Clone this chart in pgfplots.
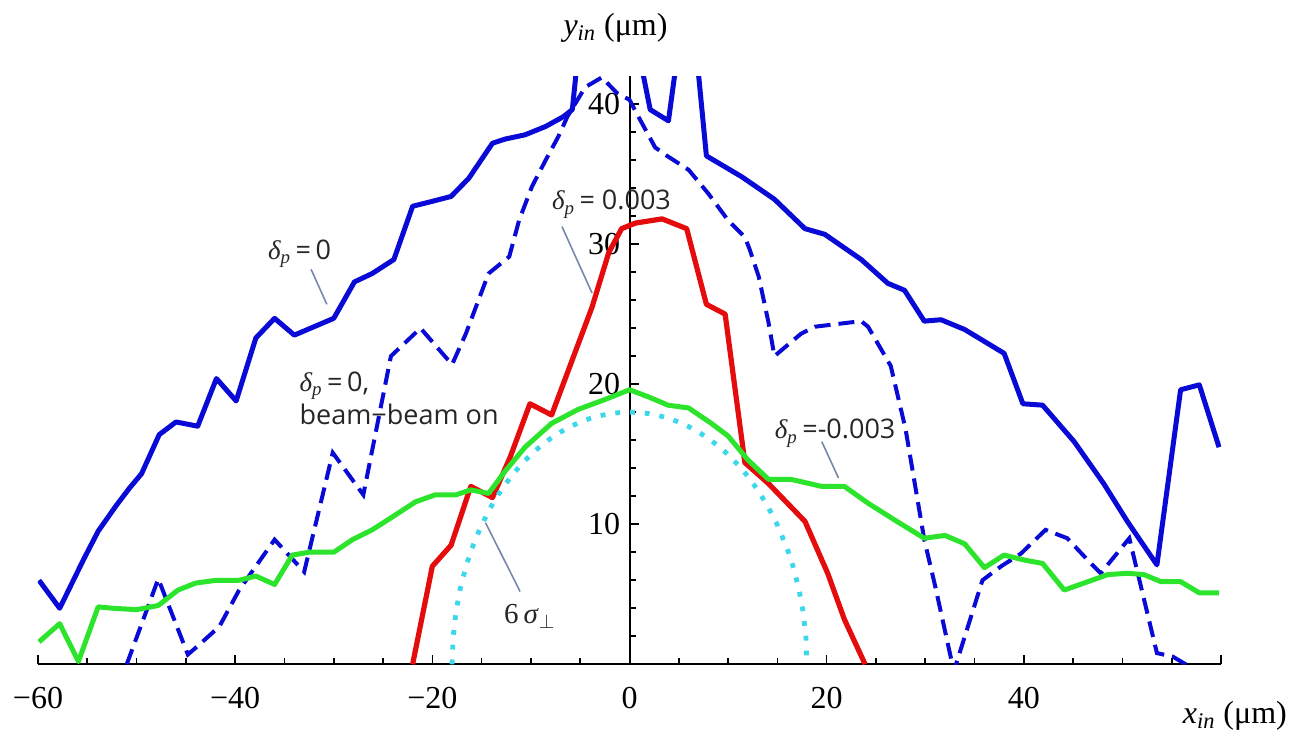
\documentclass[border=0pt]{standalone}
\usepackage{fontspec}
\setmainfont{Liberation Serif}
\newfontfamily\sansf{Open Sans}
\usepackage{pgfplots}
\pgfplotsset{compat=1.18}
\definecolor{cblue}{RGB}{10,10,215}
\definecolor{cred}{RGB}{228,12,12}
\definecolor{cgreen}{RGB}{45,228,45}
\definecolor{ccyan}{RGB}{60,215,235}
\definecolor{lead}{RGB}{120,135,170}
\newcommand{\dlt}{{\rmfamily\itshape δ}\textsubscript{\rmfamily\itshape p}}
\begin{document}
\begin{tikzpicture}
\path[use as bounding box] (-19pt,-34.85pt) rectangle (626.5pt,332.15pt);
\begin{axis}[
  at={(0,0)}, anchor=south west,
  scale only axis, width=591.5pt, height=294.15pt,
  xmin=-60, xmax=60, ymin=0, ymax=42,
  axis lines=middle,
  clip mode=individual,
  axis line style={black, line width=1pt, -},
  every inner x axis line/.append style={-},
  every inner y axis line/.append style={-},
  hide obscured x ticks=false,
  hide obscured y ticks=false,
  xtick={-60,-40,-20,0,20,40,60},
  xticklabels={−60,−40,−20,0,20,40,{}},
  minor xtick={-55,-50,-45,-35,-30,-25,-15,-10,-5,5,10,15,25,30,35,45,50,55},
  ytick={10,20,30,40},
  yticklabels={10,20,30,40},
  minor ytick={2,4,6,8,12,14,16,18,22,24,26,28,32,34,36,38},
  tick align=inside,
  major tick length=4.5pt, minor tick length=3pt,
  tick style={black, line width=0.8pt},
  xticklabel style={font=\fontsize{16}{18}\selectfont, anchor=base, inner sep=0pt, yshift=-21.85pt},
  yticklabel style={font=\fontsize{16}{18}\selectfont, anchor=east, inner sep=0pt, xshift=-4.5pt},
]
% delta_p = 0 (solid blue)
\addplot[cblue, line width=2.5pt, line join=round] coordinates {
(-59.9,6.0) (-57.8,4.0) (-55.4,7.45) (-53.9,9.5) (-52.1,11.3) (-50.7,12.6) (-49.5,13.6)
(-47.7,16.4) (-46,17.3) (-43.8,17.0) (-41.9,20.4) (-39.9,18.8) (-37.9,23.3) (-36.0,24.7)
(-34.0,23.5) (-30.0,24.7) (-27.9,27.3) (-26.1,27.9) (-23.9,28.9) (-22.0,32.7) (-20.3,33.0)
(-18.1,33.4) (-16.3,34.7) (-13.9,37.2) (-12.6,37.5) (-10.6,37.8) (-8.5,38.4) (-6.7,39.1)
(-5.8,39.6) (-4,52) (-2,55) (0,47) (2.1,39.6) (3.95,38.8) (6,49.4) (7.8,36.3) (11.4,34.8)
(14.7,33.2) (17.8,31.1) (19.8,30.7) (23.5,28.9) (26.2,27.2) (27.9,26.7) (29.9,24.5)
(31.6,24.6) (34.0,23.9) (38.0,22.2) (39.9,18.6) (41.9,18.5) (45.1,15.9) (48.1,12.9)
(50.5,10.2) (53.5,7.1) (55.9,19.6) (57.8,19.95) (59.8,15.5)
};
% delta_p = 0, beam-beam on (dashed blue)
\addplot[cblue, line width=2pt, dash pattern=on 8pt off 4pt] coordinates {
(-51.0,0) (-47.8,6.1) (-44.8,0.7) (-43.8,1.3) (-41.6,2.7) (-39.6,5.3) (-36.0,8.9)
(-33.0,6.6) (-30.1,15.1) (-27.0,12.1) (-24.2,22.0) (-21.2,24.0) (-18.0,21.4) (-16.6,23.6)
(-14.3,27.9) (-12.2,29.1) (-11.2,31.7) (-9.9,34.1) (-8.5,36.0) (-7.2,37.7) (-6.3,39.1)
(-4.5,41.2) (-2.8,41.9) (-1.3,40.8) (0,40.3) (0.9,39.1) (2.6,36.9) (3.8,36.3) (6.0,35.3)
(8.0,33.6) (10.0,31.7) (11.7,30.5) (12.2,29.6) (13.1,27.7) (14.1,24.4) (14.7,22.0)
(17.4,23.6) (18.8,24.1) (23.5,24.5) (24.2,24.1) (26.5,21.3) (28.0,16.8) (29.9,8.9)
(31.0,5.6) (32.9,-0.5) (35.8,6.0) (37.7,7.0) (39.7,7.9) (42.2,9.6) (44.4,9.0) (46.8,7.2)
(47.8,6.5) (50.7,9.0) (53.5,0.8) (55.1,0.55) (56.9,-0.2)
};
% delta_p = 0.003 (red)
\addplot[cred, line width=2.6pt, line join=round] coordinates {
(-22.0,0) (-20.0,7.0) (-18.1,8.5) (-16.1,12.7) (-13.9,11.9) (-12.1,14.8) (-10.1,18.6)
(-7.9,17.8) (-3.8,25.5) (-2.1,29.4) (-0.8,31.1) (0.6,31.5) (3.3,31.8) (5.8,31.1)
(7.8,25.7) (9.7,25.0) (11.7,14.4) (14.1,12.9) (17.8,10.2) (20.1,6.5) (21.8,3.2) (23.9,0)
};
% delta_p = -0.003 (green)
\addplot[cgreen, line width=2.5pt, line join=round] coordinates {
(-59.9,1.6) (-57.8,2.9) (-55.9,0.2) (-53.9,4.1) (-52.4,4.0) (-50.0,3.9) (-47.8,4.2)
(-45.8,5.3) (-44.0,5.8) (-41.9,6.0) (-39.6,6.0) (-37.9,6.3) (-36.0,5.7) (-34.2,7.8)
(-32.5,8.0) (-30.0,8.0) (-28.1,8.9) (-26.1,9.6) (-24.1,10.5) (-21.7,11.6) (-19.7,12.1)
(-17.6,12.1) (-16.1,12.45) (-14.3,12.2) (-12.6,13.8) (-10.6,15.5) (-7.9,17.2) (-5.2,18.2)
(-2.5,18.9) (0,19.6) (1.9,19.1) (3.9,18.5) (6.0,18.3) (8.3,17.2) (10.0,16.3) (12.0,14.6)
(14.1,13.2) (16.4,13.2) (19.5,12.7) (21.8,12.7) (24.2,11.5) (26.9,10.3) (29.9,9.0)
(32.0,9.2) (34.0,8.6) (36.0,6.9) (38.0,7.8) (40.0,7.45) (41.9,7.2) (44.1,5.3) (46.1,5.8)
(48.5,6.4) (50.5,6.5) (52.2,6.4) (53.9,5.9) (55.9,5.9) (57.8,5.1) (59.8,5.1)
};
% 6 sigma (cyan dotted)
\addplot[ccyan, line width=2.4pt, dash pattern=on 2.4pt off 5pt] coordinates {
(-18,0) (-17.9,1.89) (-17.6,3.77) (-17.2,5.31) (-16.6,6.96) (-16,8.25) (-15,9.95)
(-14,11.31) (-13,12.45) (-12,13.42) (-11,14.25) (-10,14.97) (-9,15.59) (-8,16.12)
(-7,16.58) (-6,16.97) (-5,17.29) (-4,17.55) (-3,17.75) (-2,17.89) (-1,17.97) (0,18)
(1,17.97) (2,17.89) (3,17.75) (4,17.55) (5,17.29) (6,16.97) (7,16.58) (8,16.12)
(9,15.59) (10,14.97) (11,14.25) (12,13.42) (13,12.45) (14,11.31) (15,9.95) (16,8.25)
(16.6,6.96) (17.2,5.31) (17.6,3.77) (17.9,1.89) (18,0)
};
% leader lines
\draw[lead, line width=0.8pt] (-32.3,28.2) -- (-30.7,25.7);
\draw[lead, line width=0.8pt] (-6.85,31.25) -- (-3.8,26.5);
\draw[lead, line width=0.8pt] (19.5,15.9) -- (21.2,13.3);
\draw[lead, line width=0.8pt] (-14.6,10.1) -- (-11.1,5.2);
% annotations
\node[anchor=base west, inner sep=0pt, text=black!85, font=\sansf\fontsize{13.5}{16}\selectfont] at (-36.7,28.9) {\dlt\,=\,0};
\node[anchor=base west, inner sep=0pt, text=black!85, font=\sansf\fontsize{13.5}{16}\selectfont] at (-7.9,32.45) {\dlt\,=\ 0.003};
\node[anchor=base west, inner sep=0pt, text=black!85, font=\sansf\fontsize{13.5}{16}\selectfont] at (-33.5,19.5) {\dlt\,=\,0,};
\node[anchor=base west, inner sep=0pt, text=black!85, font=\sansf\fontsize{13.5}{16}\selectfont] at (-33.5,17.1) {beam−beam on};
\node[anchor=base west, inner sep=0pt, text=black!85, font=\sansf\fontsize{13.5}{16}\selectfont] at (14.7,16.1) {\dlt\,=-0.003};
\node[anchor=base west, inner sep=0pt, text=black!85, font=\rmfamily\fontsize{14.5}{17}\selectfont] at (-12.75,2.9) {6\,\textit{σ}\textsubscript{$\perp$}};
% axis labels
\node[inner sep=0pt, font=\rmfamily\fontsize{16}{18}\selectfont] at (-1.42,45.45) {\textit{y}\textsubscript{\textit{in}} (μm)};
\node[inner sep=0pt, font=\rmfamily\fontsize{16}{18}\selectfont] at (61.4,-3.68) {\textit{x}\textsubscript{\textit{in}} (μm)};
\end{axis}
\end{tikzpicture}
\end{document}
